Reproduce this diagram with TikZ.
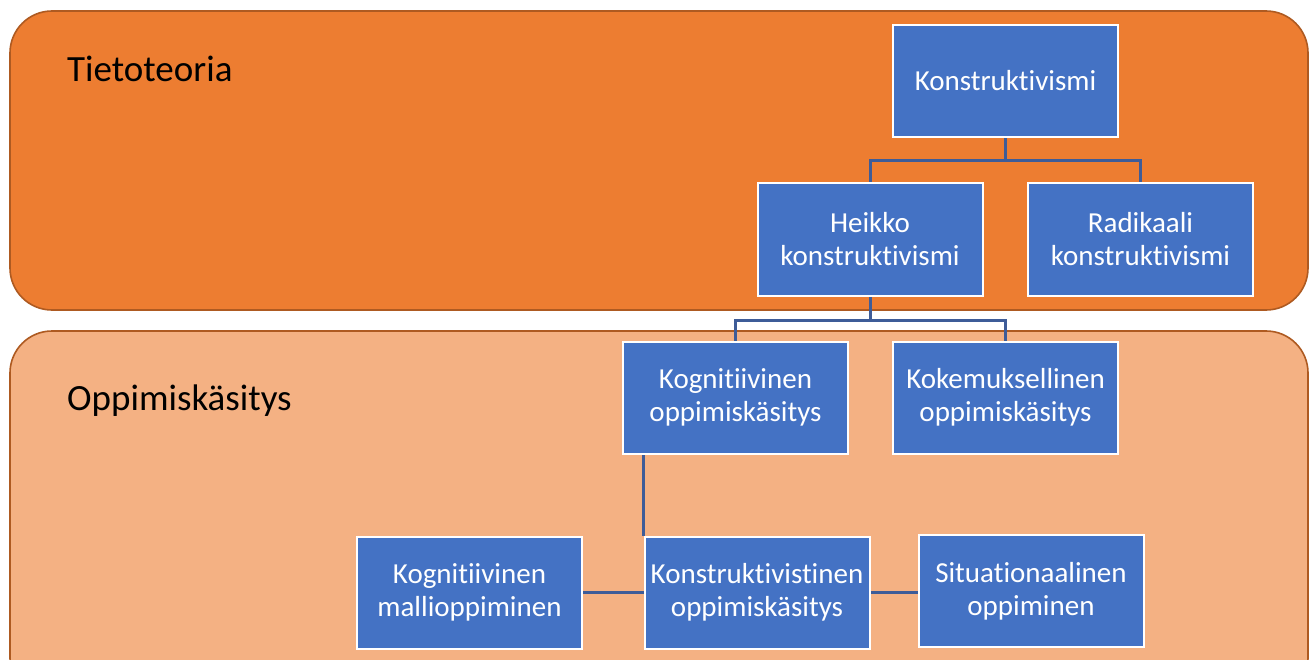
\documentclass[tikz,border=0pt]{standalone}
\usepackage{fontspec}
\setmainfont[Ligatures=NoCommon]{Carlito}
\pgfdeclarelayer{bg}
\pgfdeclarelayer{mid}
\pgfsetlayers{bg,mid,main}
\definecolor{bandtop}{RGB}{237,125,49}
\definecolor{bandbot}{RGB}{244,177,131}
\definecolor{bandline}{RGB}{174,90,33}
\definecolor{boxblue}{RGB}{68,114,196}
\definecolor{linkblue}{RGB}{62,92,152}
\tikzset{
  band/.style={draw=bandline, line width=1.6pt, rounded corners=42pt},
  cbox/.style={draw=white, line width=2pt, fill=boxblue, text=white,
    minimum width=225pt, minimum height=112pt, inner sep=0pt, align=center,
    font=\fontsize{29}{33}\selectfont},
  heading/.style={anchor=base west, inner sep=0pt, text=black,
    font=\fontsize{37}{40}\selectfont},
  link/.style={draw=linkblue, line width=3pt}
}
\begin{document}
\begin{tikzpicture}[x=1pt,y=-1pt]
\useasboundingbox (0,0) rectangle (1313,660);
\begin{pgfonlayer}{bg}
  \fill[white] (0,0) rectangle (1313,660);
  \path[band, fill=bandtop] (10,11) rectangle (1308,310);
  \path[band, fill=bandbot] (10,331) rectangle (1308,700);
\end{pgfonlayer}
\node[heading] (t1) at (67,82) {Tietoteoria};
\node[heading] (t2) at (67,410) {Oppimiskäsitys};

\node[cbox] (K) at (1005.5,81) {Konstruktivismi};
\node[cbox] (H) at (870,239.5) {Heikko\\konstruktivismi};
\node[cbox] (R) at (1140.5,239.5) {Radikaali\\konstruktivismi};
\node[cbox] (KO) at (735.5,397.5) {Kognitiivinen\\oppimiskäsitys};
\node[cbox] (KE) at (1005.5,397.5) {Kokemuksellinen\\oppimiskäsitys};
\node[cbox] (MO) at (469.5,592.5) {Kognitiivinen\\mallioppiminen};
\node[cbox] (KV) at (757,592.5) {Konstruktivistinen\\oppimiskäsitys};
\node[cbox] (SO) at (1031,591) {Situationaalinen\\oppiminen};

\begin{pgfonlayer}{mid}
  \draw[link] (K.south) -- ++(0,23) coordinate (k1) -| (H.north);
  \draw[link] (k1) -| (R.north);
  \draw[link] (H.south) -- ++(0,24) coordinate (h1) -| (KO.north);
  \draw[link] (h1) -| (KE.north);
  \draw[link] (KO.south -| KV.north west) -- (KV.north west);
  \draw[link] (MO.east) -- (KV.west);
  \draw[link] (KV.east) -- (KV.east -| SO.west);
\end{pgfonlayer}
\end{tikzpicture}
\end{document}
